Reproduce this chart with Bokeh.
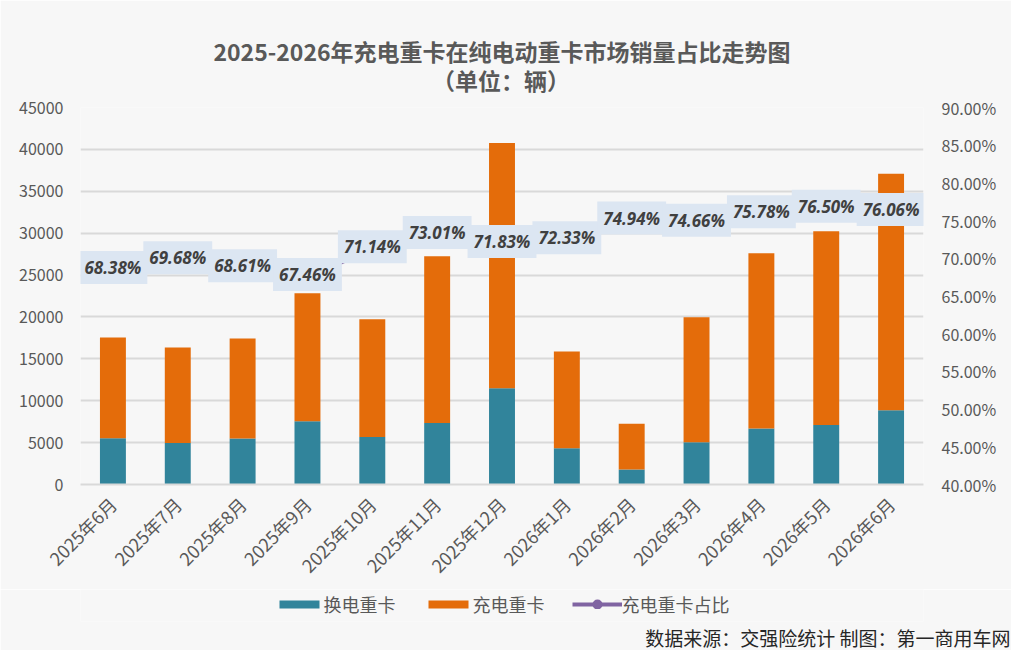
import math
from bokeh.plotting import figure
from bokeh.layouts import column
from bokeh.models import (ColumnDataSource, Range1d, LinearAxis, FactorRange, SingleIntervalTicker,
                          NumeralTickFormatter, Title, Legend, LegendItem)
from bokeh.core.properties import value
from bokeh.embed import file_html
from bokeh.resources import INLINE

months = ["2025年6月", "2025年7月", "2025年8月", "2025年9月", "2025年10月", "2025年11月",
          "2025年12月", "2026年1月", "2026年2月", "2026年3月", "2026年4月", "2026年5月", "2026年6月"]
swap = [5520, 4950, 5480, 7550, 5660, 7330, 11480, 4340, 1790, 5030, 6680, 7090, 8860]
charge = [12030, 11400, 11950, 15270, 14050, 19920, 29290, 11540, 5470, 14920, 20930, 23150, 28240]
ratio = [0.6838, 0.6968, 0.6861, 0.6746, 0.7114, 0.7301, 0.7183, 0.7233, 0.7494, 0.7466, 0.7578, 0.7650, 0.7606]
ratio_labels = ["68.38%", "69.68%", "68.61%", "67.46%", "71.14%", "73.01%", "71.83%",
                "72.33%", "74.94%", "74.66%", "75.78%", "76.50%", "76.06%"]

title_text = "2025-2026年充电重卡在纯电动重卡市场销量占比走势图"
subtitle_text = "（单位：辆）"
source_text = "数据来源：交强险统计 制图：第一商用车网"
series_names = ["换电重卡", "充电重卡", "充电重卡占比"]

TEAL = "#31849B"
ORANGE = "#E46C0A"
PURPLE = "#8064A2"
BG = "#F7F7F7"
GRID = "#D9D9D9"
TXT = "#595959"
CJK = "Noto Sans CJK SC"

src = ColumnDataSource(dict(month=months, swap=swap, charge=charge, ratio=ratio, lbl=ratio_labels))

# ---------------- main chart ----------------
p = figure(width=1011, height=589, x_range=FactorRange(factors=months), y_range=Range1d(0, 45000),
           output_backend="svg", toolbar_location=None,
           min_border_left=80, min_border_right=88, min_border_top=107, min_border_bottom=105)
p.background_fill_color = BG
p.border_fill_color = BG
p.outline_line_color = None

p.extra_y_ranges = {"pct": Range1d(0.40, 0.90)}

bars = p.vbar_stack(["swap", "charge"], x="month", width=0.4, source=src,
                    color=[TEAL, ORANGE], line_color=None)

p.line(x="month", y="ratio", source=src, y_range_name="pct", line_color=PURPLE, line_width=3)
p.scatter(x="month", y="ratio", source=src, y_range_name="pct", size=9,
          fill_color=PURPLE, line_color=PURPLE)

p.text(x="month", y="ratio", text="lbl", source=src, y_range_name="pct",
       text_align="center", text_baseline="middle", y_offset=-3,
       text_font=value("Open Sans"), text_font_style="bold italic", text_font_size="17px",
       text_color="#404040", background_fill_color="#DCE6F2", padding=[6, 5])

p.yaxis.ticker = SingleIntervalTicker(interval=5000)
p.yaxis.axis_line_color = None
p.yaxis.major_tick_line_color = None
p.yaxis.minor_tick_line_color = None
p.yaxis.major_label_text_color = TXT
p.yaxis.major_label_text_font = CJK
p.yaxis.major_label_text_font_size = "16px"
p.yaxis.major_label_standoff = 11

right = LinearAxis(y_range_name="pct", ticker=SingleIntervalTicker(interval=0.05),
                   formatter=NumeralTickFormatter(format="0.00%"))
right.axis_line_color = None
right.major_tick_line_color = None
right.minor_tick_line_color = None
right.major_label_text_color = TXT
right.major_label_text_font = CJK
right.major_label_text_font_size = "16px"
right.major_label_standoff = 12
p.add_layout(right, "right")

p.xaxis.axis_line_color = GRID
p.xaxis.axis_line_width = 2
p.xaxis.major_tick_line_color = None
p.xaxis.major_label_orientation = math.pi / 4
p.xaxis.major_label_text_color = TXT
p.xaxis.major_label_text_font = CJK
p.xaxis.major_label_text_font_size = "18px"
p.xaxis.major_label_standoff = 10
p.xgrid.grid_line_color = None
p.ygrid.grid_line_color = GRID
p.ygrid.grid_line_width = 2

# two-line title; the unit line is centred under the title with ideographic / en spaces
indent = "\u3000" * 9 + "\u2002"
p.add_layout(Title(text=title_text + "\n" + indent + subtitle_text, align="center", standoff=20,
                   text_font=CJK, text_font_style="bold", text_font_size="23px",
                   text_line_height=0.88, text_color=TXT), "above")

# ---------------- legend + source strip ----------------
q = figure(width=1011, height=61, x_range=Range1d(0, 1), y_range=Range1d(0, 1),
           output_backend="svg", toolbar_location=None, x_axis_type=None, y_axis_type=None,
           min_border=0)
q.background_fill_color = BG
q.border_fill_color = BG
q.outline_line_color = None
q.grid.visible = False

nan = float("nan")
dummy = ColumnDataSource(dict(x=[nan], y=[nan], top=[nan]))
lg_swap = q.vbar(x="x", top="top", width=0.1, source=dummy, fill_color=TEAL, line_color=None)
lg_charge = q.vbar(x="x", top="top", width=0.1, source=dummy, fill_color=ORANGE, line_color=None)
lg_line = q.line(x="x", y="y", source=dummy, line_color=PURPLE, line_width=4)
lg_dot = q.line(x="x", y="y", source=dummy, line_color=PURPLE, line_width=10,
                line_cap="round", line_dash="0 50", line_dash_offset=25)

legend = Legend(items=[LegendItem(label=series_names[0], renderers=[lg_swap]),
                       LegendItem(label=series_names[1], renderers=[lg_charge]),
                       LegendItem(label=series_names[2], renderers=[lg_line, lg_dot])],
                location="top_center", orientation="horizontal",
                background_fill_alpha=0, border_line_color=None, padding=0, margin=2,
                spacing=27, label_standoff=0, glyph_width=50, glyph_height=10,
                label_text_font=CJK, label_text_font_size="18px", label_text_color=TXT)
q.add_layout(legend, "center")

q.add_layout(Title(text=source_text, align="right", offset=-87, standoff=0,
                   text_font=CJK, text_font_style="normal", text_font_size="19px",
                   text_color="#262626"), "below")

layout = column(p, q, spacing=0)
open("out.html", "w").write(file_html(layout, INLINE))
